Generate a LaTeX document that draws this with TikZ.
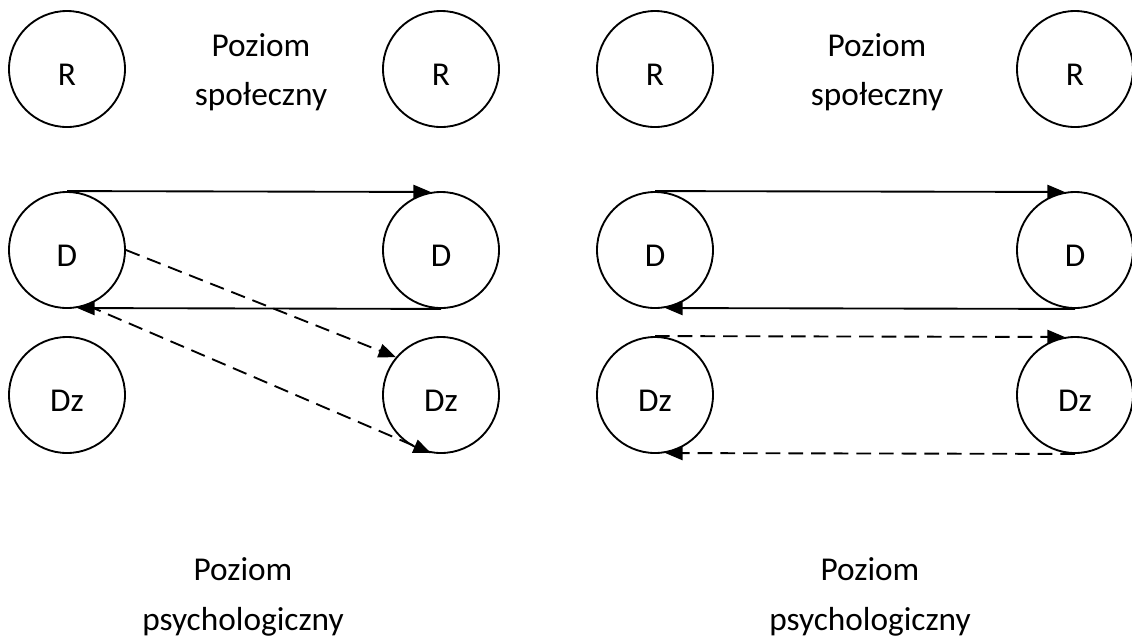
\documentclass[tikz,border=0pt]{standalone}
\usepackage{fontspec}
\setmainfont{Carlito}
\usetikzlibrary{arrows.meta}
\begin{document}
\begin{tikzpicture}[x=0.75pt,y=-0.75pt,
  agent/.style={draw,circle,line width=1.4pt,minimum size=87pt,inner sep=0pt,
    text height=24pt,text depth=0pt,font=\fontsize{25}{30}\selectfont},
  levellabel/.style={align=center,font=\fontsize{25}{37}\selectfont},
  flow/.style={line width=1.4pt,-{Triangle[length=13pt,width=10.5pt]}},
  dflow/.style={flow,dash pattern=on 11pt off 6pt}]
\useasboundingbox (0,0) rectangle (1132,640);

% left scheme
\node[agent] (lR1)  at (67,69)   {R};
\node[agent] (lR2)  at (441,69)  {R};
\node[agent] (lD1)  at (67,250)  {D};
\node[agent] (lD2)  at (441,250) {D};
\node[agent] (lZ1)  at (67,395)  {Dz};
\node[agent] (lZ2)  at (441,395) {Dz};
\node[levellabel] (lsoc) at (261,72)  {Poziom\\społeczny};
\node[levellabel] (lpsy) at (243,597) {Poziom\\psychologiczny};

\draw[flow]  (lD1.north) -- (lD2.100);
\draw[flow]  (lD2.south) -- (lD1.-80);
\draw[dflow] (lD1.east)  -- (lZ2.140);
\draw[dflow] (lD1.-70)   -- (lZ2.-100);

% right scheme
\node[agent] (rR1)  at (655,69)   {R};
\node[agent] (rR2)  at (1075,69)  {R};
\node[agent] (rD1)  at (655,250)  {D};
\node[agent] (rD2)  at (1075,250) {D};
\node[agent] (rZ1)  at (655,395)  {Dz};
\node[agent] (rZ2)  at (1075,395) {Dz};
\node[levellabel] (rsoc) at (877,72)  {Poziom\\społeczny};
\node[levellabel] (rpsy) at (870,597) {Poziom\\psychologiczny};

\draw[flow]  (rD1.north) -- (rD2.100);
\draw[flow]  (rD2.south) -- (rD1.-80);
\draw[dflow] (rZ1.north) -- (rZ2.100);
\draw[dflow] (rZ2.south) -- (rZ1.-80);
\end{tikzpicture}
\end{document}
